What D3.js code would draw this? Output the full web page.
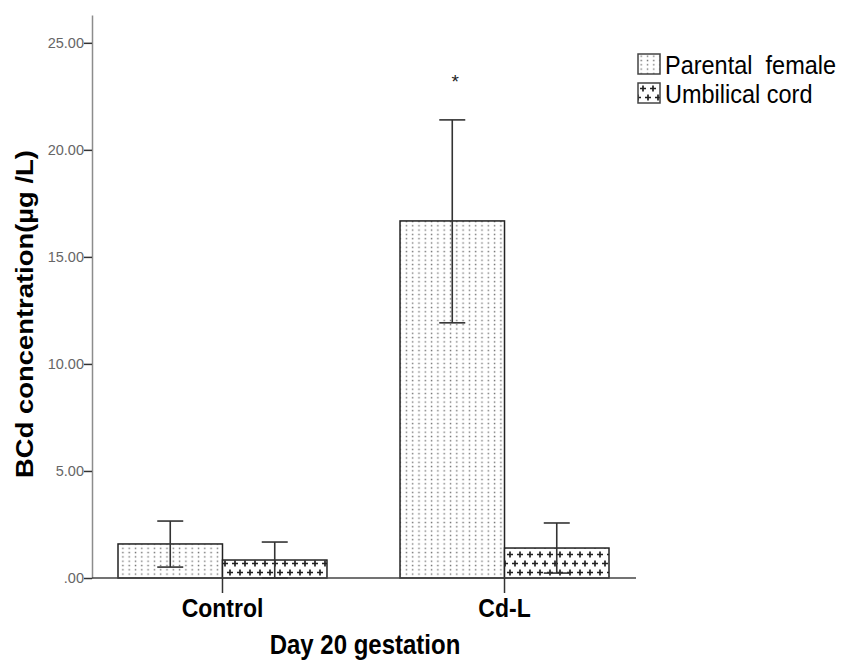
<!DOCTYPE html>
<html>
<head>
<meta charset="utf-8">
<title></title>
<style>
  body { margin: 0; background: #fff; }
  svg { display: block; font-family: Arial, "Liberation Sans", sans-serif; }
</style>
<script src="https://d3js.org/d3.v7.min.js"></script>
</head>
<body>
<svg width="841" height="660"></svg>
<script>
// data
var groups = ["Control", "Cd-L"];
var series = ["Parental  female", "Umbilical cord"];
var parentalMean = [1.59, 16.68];
var parentalLow = [0.51, 11.92];
var parentalHigh = [2.66, 21.40];
var cordMean = [0.84, 1.40];
var cordLow = [0.0, 0.23];
var cordHigh = [1.68, 2.57];
var yTicks = [0, 5, 10, 15, 20, 25];
var yTickLabels = [".00", "5.00", "10.00", "15.00", "20.00", "25.00"];

var rows = [];
groups.forEach(function(g, i) {
  rows.push({group: g, key: series[0], mean: parentalMean[i], low: parentalLow[i], high: parentalHigh[i]});
  rows.push({group: g, key: series[1], mean: cordMean[i], low: cordLow[i], high: cordHigh[i]});
});

var svg = d3.select("svg");
var stretch = 1.12; // the source picture is a little taller than wide

// patterns
var defs = svg.append("defs");
var dots = defs.append("pattern")
    .attr("id", "dots")
    .attr("patternUnits", "userSpaceOnUse")
    .attr("width", 6.3).attr("height", 4.3);
dots.append("rect").attr("width", 6.3).attr("height", 4.3).attr("fill", "#fff");
dots.append("rect").attr("x", 2.5).attr("y", 1.5).attr("width", 1.4).attr("height", 1.4).attr("fill", "#6e6e6e");

var cross = defs.append("pattern")
    .attr("id", "cross")
    .attr("patternUnits", "userSpaceOnUse")
    .attr("width", 10).attr("height", 18)
    .attr("y", 1);
cross.append("rect").attr("width", 10).attr("height", 18).attr("fill", "#fff");
[[5, 4.5], [0, 13.5], [10, 13.5]].forEach(function(p) {
  cross.append("path")
    .attr("d", "M" + (p[0] - 3) + "," + p[1] + "h6M" + p[0] + "," + (p[1] - 3) + "v6")
    .attr("stroke", "#222").attr("stroke-width", 1.7);
});

var fills = d3.scaleOrdinal().domain(series).range(["url(#dots)", "url(#cross)"]);

var y = d3.scaleLinear().domain([0, 26.3]).range([578, 15]);
var x = d3.scaleBand().domain(groups).range([118, 609]).paddingInner(0.259).paddingOuter(0);
var xs = d3.scaleBand().domain(series).range([0, x.bandwidth()]);

// y axis
var yAxis = svg.append("g")
    .attr("transform", "translate(92,0)")
    .call(d3.axisLeft(y).tickValues(yTicks).tickSize(8).tickSizeOuter(0)
      .tickFormat(function(d, i) { return yTickLabels[i]; }));
yAxis.select(".domain").attr("stroke", "#8c8c8c").attr("stroke-width", 1.5);
yAxis.selectAll(".tick line").attr("stroke", "#333").attr("stroke-width", 1.5);
yAxis.selectAll(".tick text").attr("fill", "#666").attr("font-size", 14.5).attr("x", -8);

// bars
svg.append("g").selectAll("rect")
  .data(rows)
  .enter().append("rect")
    .attr("x", function(d) { return x(d.group) + xs(d.key); })
    .attr("y", function(d) { return y(d.mean); })
    .attr("width", xs.bandwidth())
    .attr("height", function(d) { return y(0) - y(d.mean); })
    .attr("fill", function(d) { return fills(d.key); })
    .attr("stroke", "#222")
    .attr("stroke-width", 1.5);

// x axis
svg.append("line")
    .attr("x1", 92).attr("x2", 636)
    .attr("y1", y(0)).attr("y2", y(0))
    .attr("stroke", "#444").attr("stroke-width", 1.5);
var xAxis = svg.append("g")
    .attr("transform", "translate(0," + y(0) + ")")
    .call(d3.axisBottom(x).tickSize(15).tickSizeOuter(0));
xAxis.select(".domain").remove();
xAxis.selectAll(".tick line").attr("stroke", "#333").attr("stroke-width", 1.5);
xAxis.selectAll(".tick text")
    .attr("y", 0)
    .attr("dy", 0)
    .attr("transform", "translate(0,39) scale(1," + stretch + ")")
    .attr("fill", "#000")
    .attr("font-size", 23)
    .attr("font-weight", "bold");

// error bars
var eb = svg.append("g").attr("stroke", "#333").attr("stroke-width", 1.6).attr("fill", "none");
rows.forEach(function(d) {
  var cx = x(d.group) + xs(d.key) + xs.bandwidth() / 2;
  eb.append("line").attr("x1", cx).attr("x2", cx).attr("y1", y(d.low)).attr("y2", y(d.high));
  eb.append("line").attr("x1", cx - 13).attr("x2", cx + 13).attr("y1", y(d.high)).attr("y2", y(d.high));
  eb.append("line").attr("x1", cx - 13).attr("x2", cx + 13).attr("y1", y(d.low)).attr("y2", y(d.low));
});

// significance marker
svg.append("text")
    .attr("x", x("Cd-L") + xs(series[0]) + xs.bandwidth() / 2 + 3)
    .attr("y", 88)
    .attr("text-anchor", "middle")
    .attr("font-size", 19)
    .attr("fill", "#222")
    .text("*");

// axis titles
svg.append("text")
    .attr("transform", "translate(365,654) scale(1," + stretch + ")")
    .attr("text-anchor", "middle")
    .attr("font-size", 24).attr("font-weight", "bold")
    .text("Day 20 gestation");
svg.append("text")
    .attr("transform", "translate(33,314) rotate(-90) scale(" + (stretch * 1.02) + ",1)")
    .attr("text-anchor", "middle")
    .attr("font-size", 24).attr("font-weight", "bold")
    .text("BCd concentration(\u00b5g /L)");

// legend
var legend = svg.append("g").attr("transform", "translate(638,54)");
var li = legend.selectAll("g").data(series).enter().append("g")
    .attr("transform", function(d, i) { return "translate(0," + (i * 29) + ")"; });
li.append("rect")
    .attr("width", 22).attr("height", 20)
    .attr("fill", function(d) { return fills(d); })
    .attr("stroke", "#444").attr("stroke-width", 1.5);
li.append("text")
    .attr("transform", "translate(27,20) scale(1," + stretch + ")")
    .attr("font-size", 23.5)
    .attr("fill", "#000")
    .style("white-space", "pre")
    .text(function(d) { return d; });
</script>
</body>
</html>
